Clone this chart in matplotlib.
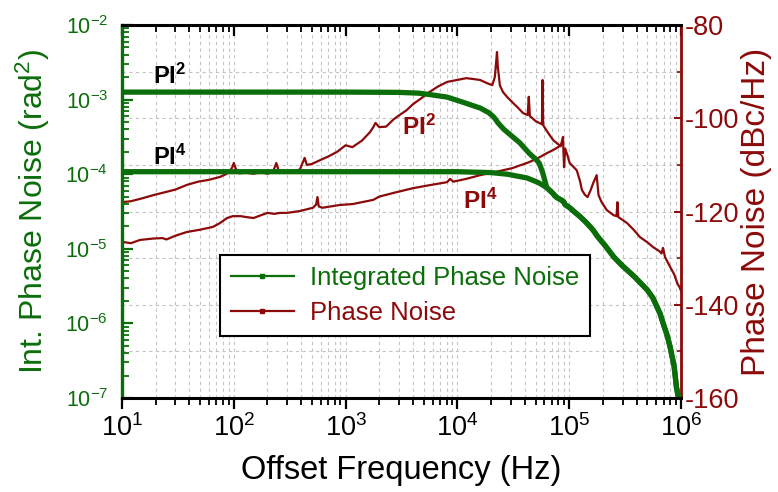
import numpy as np
import matplotlib
matplotlib.use('Agg')
import matplotlib.pyplot as plt
from matplotlib import font_manager
from matplotlib.ticker import LogLocator, MultipleLocator, NullFormatter
from matplotlib.lines import Line2D

names = {f.name for f in font_manager.fontManager.ttflist}
REG = 'Liberation Sans' if 'Liberation Sans' in names else 'DejaVu Sans'
NAR = 'Liberation Sans Narrow' if 'Liberation Sans Narrow' in names else REG

plt.rcParams['font.family'] = [REG, 'DejaVu Sans']
plt.rcParams['mathtext.default'] = 'regular'
plt.rcParams['axes.unicode_minus'] = False

GREEN = '#0b6e0b'
RED = '#8c0a0a'

# ---------------- data ----------------
# Phase noise, PI^2 loop (dBc/Hz)
pn2_f = [10, 12, 15, 19, 23, 30, 38, 48, 60, 75, 85, 92, 97, 100, 104, 112, 130, 150, 175,
         200, 225, 240, 255, 280, 320, 360, 390, 430, 450, 500, 590, 700, 840, 1000, 1150,
         1400, 1650, 1770, 1850, 2000, 2300, 2700, 3000, 3500, 4000, 4700, 5600, 6700, 8100,
         9900, 12000, 14000, 16000, 18500, 20500, 21600, 22300, 22600, 23000, 24000, 25600,
         28000, 31400, 35000, 38700, 42500, 43500, 44500, 46000, 50000, 54000, 57000, 57800,
         58500, 60000, 65000, 72000, 78000, 84000, 87000, 88000, 89000, 90000, 92000, 96000,
         101000, 110000, 117000, 125000, 130000, 138000, 146000, 155000, 164000, 176000,
         183000, 195000, 217000, 250000, 265000, 270000, 275000, 300000, 330000, 380000,
         430000, 500000, 560000, 640000, 670000, 690000, 720000, 800000, 870000, 930000,
         970000, 1000000]
pn2_db = [-118.0, -117.8, -117.2, -116.5, -116.0, -115.3, -114.3, -113.6, -113.2, -112.6,
          -112.0, -111.4, -110.5, -109.6, -110.8, -111.8, -111.7, -111.9, -111.6, -111.9,
          -111.4, -109.6, -111.6, -111.7, -111.3, -111.2, -111.0, -108.5, -110.0, -109.8,
          -109.0, -108.2, -107.2, -105.8, -106.2, -104.8, -103.0, -101.9, -101.0, -101.9,
          -101.8, -100.2, -99.4, -98.3, -97.0, -95.8, -94.4, -93.2, -92.2, -91.8, -91.4,
          -91.6, -91.8, -92.5, -92.9, -91.2, -87.5, -85.8, -89.0, -93.0, -94.4, -95.5,
          -96.7, -97.8, -98.9, -99.3, -95.4, -99.6, -99.8, -100.6, -101.0, -101.3, -91.8,
          -101.5, -101.9, -103.2, -104.7, -105.4, -106.0, -104.5, -104.0, -107.5, -110.5,
          -106.5, -107.8, -109.6, -110.5, -111.2, -113.5, -115.4, -116.4, -116.9, -115.5,
          -113.9, -112.2, -116.5, -118.0, -119.7, -120.8, -121.0, -118.0, -121.2, -121.8,
          -122.5, -124.0, -125.5, -126.6, -127.6, -128.5, -129.0, -127.8, -129.8, -131.9,
          -133.5, -135.5, -136.2, -137.0]

# Phase noise, PI^4 loop (dBc/Hz) - merges with the PI^2 curve near 90 kHz
pn4_f = [10, 12, 14.5, 19, 23, 25, 30, 38, 50, 65, 75, 87, 98, 115, 130, 150, 175, 200, 230,
         260, 300, 390, 510, 545, 560, 575, 620, 890, 1160, 1770, 2000, 2700, 4000, 5500,
         8100, 8600, 9200, 12000, 16000, 22000, 31000, 44000, 55000, 63000, 72000, 77000,
         82000, 86000]
pn4_db = [-126.5, -126.8, -126.1, -125.8, -125.7, -126.0, -125.2, -124.4, -123.9, -123.3,
          -122.5, -121.4, -121.0, -121.0, -121.2, -121.4, -120.8, -120.3, -120.5, -120.3,
          -120.3, -119.9, -119.2, -118.5, -116.9, -118.9, -119.2, -118.6, -118.4, -117.5,
          -116.8, -116.0, -115.0, -114.4, -113.7, -113.0, -113.6, -113.0, -112.2, -111.5,
          -110.7, -109.4, -108.3, -107.5, -106.8, -106.4, -106.0, -105.4]

# Integrated phase noise (rad^2): PI^2 head, PI^4 head, common tail
ipn2_head_f = [10, 1000, 3000, 4500, 5600, 8100, 11000, 16000, 19000, 21000, 22000, 23000,
               26000, 31000, 36000, 44000, 51000, 54000, 58000]
ipn2_head_v = [1.26e-3, 1.26e-3, 1.25e-3, 1.22e-3, 1.17e-3, 1.08e-3, 9.3e-4, 7.7e-4, 6.7e-4,
               5.9e-4, 5.4e-4, 4.9e-4, 4.0e-4, 3.2e-4, 2.65e-4, 1.9e-4, 1.55e-4, 1.4e-4,
               1.04e-4]
ipn4_head_f = [10, 10000, 20000, 28000, 36000, 42000, 50000, 54000]
ipn4_head_v = [1.08e-4, 1.08e-4, 1.05e-4, 1.0e-4, 9.3e-5, 8.9e-5, 8.0e-5, 7.6e-5]
ipn_tail_f = [63000, 70000, 77000, 85000, 89000, 92000, 100000, 115000, 125000, 140000,
              155000, 165000, 180000, 210000, 250000, 300000, 385000, 450000, 500000,
              560000, 650000, 700000, 750000, 800000, 870000, 910000, 950000]
ipn_tail_v = [6.6e-5, 5.7e-5, 4.9e-5, 4.5e-5, 4.3e-5, 3.9e-5, 3.6e-5, 3.0e-5, 2.7e-5,
              2.3e-5, 1.95e-5, 1.75e-5, 1.45e-5, 1.1e-5, 7.8e-6, 5.9e-6, 4.2e-6, 3.3e-6,
              2.8e-6, 2.2e-6, 1.35e-6, 9.5e-7, 7.0e-7, 4.8e-7, 2.6e-7, 1.4e-7, 1.0e-7]

legend_labels = ['Integrated Phase Noise', 'Phase Noise']

# ---------------- figure ----------------
W, H = 778, 492
fig = plt.figure(figsize=(W / 100, H / 100), dpi=100)
x0, x1, y0, y1 = 122, 681, 25, 398
ax = fig.add_axes([x0 / W, 1 - y1 / H, (x1 - x0) / W, (y1 - y0) / H])
ax2 = ax.twinx()
ax.set_zorder(2)
ax2.set_zorder(1)
ax.patch.set_visible(False)

ax.set_xscale('log')
ax.set_yscale('log')
ax.set_xlim(10, 1e6)
ax.set_ylim(1e-7, 1e-2)
ax2.set_ylim(-160, -80)

# phase-noise curves (right axis)
ax2.plot(pn2_f, pn2_db, color=RED, lw=1.6, zorder=3)
ax2.plot(pn4_f, pn4_db, color=RED, lw=1.6, zorder=3)

# integrated phase noise (left axis)
ax.plot(ipn2_head_f + ipn_tail_f, ipn2_head_v + ipn_tail_v, color=GREEN, lw=3.8,
        solid_capstyle='butt', solid_joinstyle='round')
ax.plot(ipn4_head_f + ipn_tail_f, ipn4_head_v + ipn_tail_v, color=GREEN, lw=3.8,
        solid_capstyle='butt', solid_joinstyle='round')

# ticks / locators
ax.xaxis.set_major_locator(LogLocator(base=10, numticks=20))
ax.xaxis.set_minor_locator(LogLocator(base=10, subs=np.arange(2, 10), numticks=20))
ax.xaxis.set_minor_formatter(NullFormatter())
ax.yaxis.set_major_locator(LogLocator(base=10, numticks=20))
ax.yaxis.set_minor_locator(LogLocator(base=10, subs=np.arange(2, 10), numticks=20))
ax.yaxis.set_minor_formatter(NullFormatter())
ax2.yaxis.set_major_locator(MultipleLocator(20))
ax2.yaxis.set_minor_locator(MultipleLocator(10))

# grid (drawn in the lower axes)
ax2.xaxis.set_visible(True)
ax2.grid(True, which='both', axis='x', color='#c4c4c4', ls=(0, (3, 3)), lw=0.8)
ax2.grid(True, which='both', axis='y', color='#c4c4c4', ls=(0, (3, 3)), lw=0.8)
ax2.tick_params(axis='x', which='both', bottom=False, top=True, labelbottom=False,
                labeltop=False, direction='in', color='black')
ax2.tick_params(axis='x', which='major', length=8, width=1.6)
ax2.tick_params(axis='x', which='minor', length=5, width=1.3)

ax.tick_params(axis='x', which='both', top=False, bottom=True, direction='out', color='black')
ax.tick_params(axis='x', which='major', length=8, width=1.6, labelsize=19.5,
               labelfontfamily=NAR, pad=4)
ax.tick_params(axis='x', which='minor', length=5, width=1.3)

ax.tick_params(axis='y', which='both', direction='in', color=GREEN, labelcolor=GREEN)
ax.tick_params(axis='y', which='major', length=8, width=1.6, labelsize=15.5,
               labelfontfamily=NAR, pad=10)
ax.tick_params(axis='y', which='minor', length=5, width=1.3)

ax2.tick_params(axis='y', which='both', direction='in', color=RED, labelcolor=RED)
ax2.tick_params(axis='y', which='major', length=5, width=1.4, labelsize=19.5, pad=3)
ax2.tick_params(axis='y', which='minor', length=3, width=1.2)

# spines
for s in ['top', 'bottom']:
    ax.spines[s].set_linewidth(2.2)
    ax.spines[s].set_color('black')
ax.spines['left'].set_linewidth(2.4)
ax.spines['left'].set_color(GREEN)
ax.spines['right'].set_visible(False)
for s in ['left', 'top', 'bottom']:
    ax2.spines[s].set_visible(False)
ax2.spines['right'].set_linewidth(2.0)
ax2.spines['right'].set_color(RED)

# axis labels
ax.set_xlabel('Offset Frequency (Hz)', fontsize=23.5, color='black')
ax.xaxis.set_label_coords(0.5, (y1 - 470) / (y1 - y0))
ax.xaxis.label.set_va('center')
ax.set_ylabel('Int. Phase Noise (rad$^2$)', fontsize=23, color=GREEN)
ax.yaxis.set_label_coords((33 - x0) / (x1 - x0), 0.5)
ax.yaxis.label.set_va('center')
ax2.set_ylabel('Phase Noise (dBc/Hz)', fontsize=24, color=RED, rotation=90)
ax2.yaxis.set_label_coords((757 - x0) / (x1 - x0), 0.5)
ax2.yaxis.label.set_va('center')
ax2.yaxis.label.set_ha('center')

# annotations
ax.text(19, 1.62e-3, 'PI$^2$', fontsize=17, fontweight='bold', color='black',
        ha='left', va='baseline')
ax.text(19, 1.33e-4, 'PI$^4$', fontsize=17, fontweight='bold', color='black',
        ha='left', va='baseline')
ax2.text(3190, -103.6, 'PI$^2$', fontsize=17.5, fontweight='bold', color=RED,
         ha='left', va='baseline')
ax2.text(11200, -119.5, 'PI$^4$', fontsize=17.5, fontweight='bold', color=RED,
         ha='left', va='baseline')

# legend
handles = [Line2D([], [], color=GREEN, lw=1.6, marker='s', ms=2.5),
           Line2D([], [], color=RED, lw=1.6, marker='s', ms=2.5)]
leg = ax.legend(handles, legend_labels, loc='upper left',
                bbox_to_anchor=((220 - x0) / (x1 - x0), (y1 - 255) / (y1 - y0)),
                borderaxespad=0, fontsize=18.5, frameon=True, fancybox=False,
                edgecolor='black', framealpha=1, handlelength=2.45, handletextpad=0.65,
                borderpad=0.42, labelspacing=0.45)
leg.get_frame().set_linewidth(1.5)
for t, c in zip(leg.get_texts(), [GREEN, RED]):
    t.set_color(c)

fig.savefig('out.png', dpi=100)
